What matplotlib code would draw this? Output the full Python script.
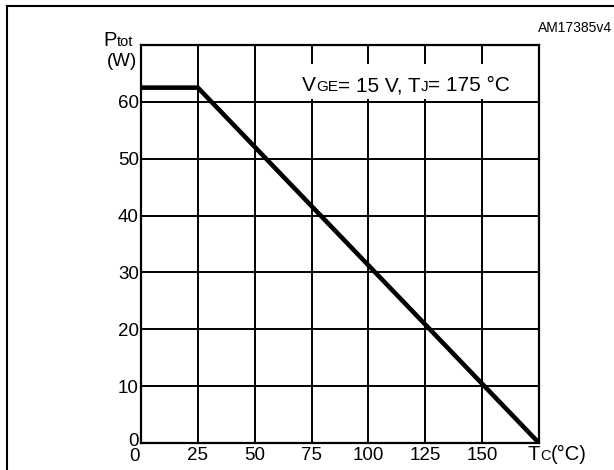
import matplotlib
matplotlib.use("Agg")
import matplotlib.pyplot as plt
from matplotlib.lines import Line2D
from matplotlib.patches import Rectangle
from matplotlib.transforms import IdentityTransform, ScaledTranslation

plt.rcParams['font.family'] = ['Liberation Sans', 'DejaVu Sans']

# 定格曲線: 25 °C までは一定, その後 175 °C で 0 W まで直線的に低下
tc = [0, 25, 175]
ptot = [62.5, 62.5, 0]

x_ticks = [0, 25, 50, 75, 100, 125, 150, 175]
x_labels = ['0', '25', '50', '75', '100', '125', '150', '']
y_ticks = [0, 10, 20, 30, 40, 50, 60]
y_labels = ['0', '10', '20', '30', '40', '50', '60']

W, H = 614, 470
fig = plt.figure(figsize=(W / 100, H / 100), dpi=100)
fig.patch.set_facecolor('white')

# 外枠 (左と上の辺のみ画像内に見える)
fig.add_artist(Line2D([7, 7], [0, H - 6], transform=IdentityTransform(),
                      color='black', lw=1.5, solid_capstyle='projecting'))
fig.add_artist(Line2D([7, W], [H - 6, H - 6], transform=IdentityTransform(),
                      color='black', lw=1.5, solid_capstyle='projecting'))

ax = fig.add_axes([141 / W, 1 - 443 / H, (539 - 141) / W, (443 - 45) / H])
ax.set_xlim(0, 175)
ax.set_ylim(0, 70)
ax.set_axisbelow(True)
ax.grid(True, color='black', lw=1.4)
for sp in ax.spines.values():
    sp.set_linewidth(1.6)
    sp.set_zorder(4)

ax.set_xticks(x_ticks)
ax.set_xticklabels(x_labels)
ax.set_yticks(y_ticks)
ax.set_yticklabels(y_labels)
ax.tick_params(length=0, labelsize=13.5, colors='black')
ax.tick_params(axis='x', pad=3)
ax.tick_params(axis='y', pad=1.5)
# 原点付近の "0" 同士が重ならないよう少しずらす
xl0 = ax.get_xticklabels()[0]
xl0.set_transform(xl0.get_transform() + ScaledTranslation(-6 / 100, -1 / 100, fig.dpi_scale_trans))
yl0 = ax.get_yticklabels()[0]
yl0.set_transform(yl0.get_transform() + ScaledTranslation(0, 4 / 100, fig.dpi_scale_trans))

ax.plot(tc, ptot, color='black', lw=3.3, solid_capstyle='round',
        solid_joinstyle='miter', zorder=5)

# 条件表示の下地 (グリッド線を隠す)
ax.add_patch(Rectangle((68, 60.5), 107, 6.1, facecolor='white',
                       edgecolor='none', zorder=1))


def draw_pieces(x, y, pieces, ha='left'):
    """大きさの違う文字列をベースライン揃えで横に並べる (座標はピクセル)"""
    r = fig.canvas.get_renderer()
    texts = []
    for s, size in pieces:
        t = fig.text(0, y, s, fontsize=size, va='baseline', ha='left',
                     transform=IdentityTransform())
        texts.append(t)
    widths = [t.get_window_extent(r).width for t in texts]
    cur = x - sum(widths) if ha == 'right' else x
    for t, w in zip(texts, widths):
        t.set_x(cur)
        cur += w
    return texts


draw_pieces(133, H - 46, [('P', 14.5), ('tot', 10.5)], ha='right')
fig.text(137, H - 62, '(W)', fontsize=13.5, ha='right', va='center',
         transform=IdentityTransform())
draw_pieces(302, H - 91, [('V', 15), ('GE', 11), ('= 15 V, T', 15),
                          ('J', 11), ('= 175 °C', 15)])
draw_pieces(528, H - 460, [('T', 14.5), ('C', 10.5), ('(°C)', 14.5)])
fig.text(612, H - 28, 'AM17385v4', fontsize=10, ha='right', va='center',
         transform=IdentityTransform())

fig.savefig('out.png', dpi=100, facecolor='white')
